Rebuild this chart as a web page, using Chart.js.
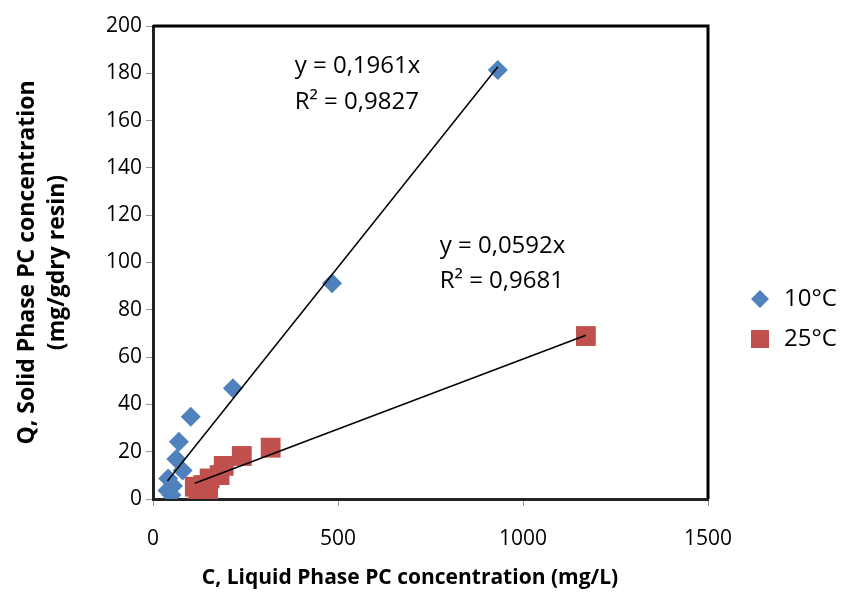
<!DOCTYPE html>
<html>
<head>
<meta charset="utf-8">
<script src="https://cdn.jsdelivr.net/npm/chart.js@4.4.1/dist/chart.umd.min.js"></script>
<style>
  html, body { margin: 0; padding: 0; background: #fff; }
  #wrap { width: 850px; height: 595px; }
</style>
</head>
<body>
<div id="wrap"><canvas id="chart" width="850" height="595"></canvas></div>
<script>
// Datos
var serieNames = ['10°C', '25°C'];
var c10 = [932, 484, 216, 102, 70, 63, 80, 41, 54, 39, 50];
var q10 = [181.4, 91.2, 46.8, 34.8, 24.2, 16.9, 12, 8.7, 5.5, 3.6, 1.7];
var c25 = [1170, 318, 240, 191, 180, 153, 136, 113, 149, 122];
var q25 = [68.9, 21.7, 18.2, 14, 10.1, 8.7, 5.9, 5.2, 3.8, 0.2];
var slopes = [0.1961, 0.0592];
var eqLabels = [['y = 0,1961x', 'R² = 0,9827'], ['y = 0,0592x', 'R² = 0,9681']];
var xTicks = [0, 500, 1000, 1500];
var xTitle = 'C, Liquid Phase PC concentration (mg/L)';

var blue = '#4F81BD';
var red = '#C0504D';
var font = "'Open Sans', 'Liberation Sans', sans-serif";

function puntos(xs, ys) {
    return xs.map(function(x, i) { return {x: x, y: ys[i]}; });
}

// Linea de tendencia (y = m x) entre min y max de la serie
function tendencia(xs, m) {
    var a = Math.min.apply(null, xs), b = Math.max.apply(null, xs);
    return [{x: a, y: m * a}, {x: b, y: m * b}];
}

//Bordes, ecuaciones, titulo X y leyenda
var extras = {
    id: 'extras',
    afterDraw: function(chart) {
        var ctx = chart.ctx, a = chart.chartArea;
        var sx = chart.scales.x, sy = chart.scales.y;
        ctx.save();
        ctx.strokeStyle = '#000';
        ctx.lineWidth = 3;
        ctx.beginPath();
        ctx.moveTo(a.left, a.top);
        ctx.lineTo(a.right, a.top);
        ctx.lineTo(a.right, a.bottom);
        ctx.stroke();

        ctx.fillStyle = '#000';
        ctx.font = '24px ' + font;
        ctx.textBaseline = 'middle';
        ctx.textAlign = 'left';
        ctx.fillText(eqLabels[0][0], sx.getPixelForValue(383), sy.getPixelForValue(183));
        ctx.fillText(eqLabels[0][1], sx.getPixelForValue(383), sy.getPixelForValue(168));
        ctx.fillText(eqLabels[1][0], sx.getPixelForValue(775), sy.getPixelForValue(107));
        ctx.fillText(eqLabels[1][1], sx.getPixelForValue(775), sy.getPixelForValue(92));

        // titulo del eje X
        ctx.textAlign = 'center';
        ctx.font = 'bold 21px ' + font;
        ctx.fillText(xTitle, 410, 578);

        // leyenda
        ctx.textAlign = 'left';
        var lx = 760, ly = [299, 339];
        ctx.fillStyle = blue;
        ctx.beginPath();
        ctx.moveTo(lx, ly[0] - 9);
        ctx.lineTo(lx + 9, ly[0]);
        ctx.lineTo(lx, ly[0] + 9);
        ctx.lineTo(lx - 9, ly[0]);
        ctx.closePath();
        ctx.fill();
        ctx.fillStyle = red;
        ctx.fillRect(lx - 9, ly[1] - 9, 18, 18);
        ctx.fillStyle = '#000';
        ctx.font = '24px ' + font;
        ctx.fillText(serieNames[0], 784, ly[0]);
        ctx.fillText(serieNames[1], 784, ly[1]);
        ctx.restore();
    }
};

var ctx = document.getElementById('chart').getContext('2d');
var grafico = new Chart(ctx, {
    type: 'scatter',
    data: {
        datasets: [{
            label: serieNames[0],
            data: puntos(c10, q10),
            pointStyle: 'rectRot',
            pointRadius: 10,
            pointHoverRadius: 10,
            backgroundColor: blue,
            borderColor: blue,
            borderWidth: 0,
            order: 2
        }, {
            label: serieNames[1],
            data: puntos(c25, q25),
            pointStyle: 'rect',
            pointRadius: 14,
            pointHoverRadius: 14,
            backgroundColor: red,
            borderColor: red,
            borderWidth: 0,
            order: 3
        }, {
            type: 'line',
            label: 'trend10',
            data: tendencia(c10, slopes[0]),
            borderColor: '#000',
            borderWidth: 1.5,
            pointRadius: 0,
            fill: false,
            order: 1
        }, {
            type: 'line',
            label: 'trend25',
            data: tendencia(c25, slopes[1]),
            borderColor: '#000',
            borderWidth: 1.5,
            pointRadius: 0,
            fill: false,
            order: 1
        }]
    },
    options: {
        responsive: false,
        animation: false,
        layout: { padding: { left: 0, top: 26, right: 142, bottom: 0 } },
        plugins: {
            legend: { display: false },
            tooltip: { enabled: false }
        },
        scales: {
            x: {
                type: 'linear',
                min: 0,
                max: 1500,
                afterBuildTicks: function(s) {
                    s.ticks = xTicks.map(function(v) { return {value: v}; });
                },
                afterFit: function(s) { s.height = 96; },
                grid: { drawOnChartArea: false, drawTicks: true, tickLength: 7, color: '#999' },
                border: { color: '#222', width: 3 },
                ticks: {
                    color: '#000',
                    font: { family: font, size: 21 },
                    padding: 20,
                    callback: function(v) { return String(v); }
                },
                title: { display: false }
            },
            y: {
                min: 0,
                max: 200,
                afterFit: function(s) { s.width = 153; },
                grid: { drawOnChartArea: false, drawTicks: true, tickLength: 7, color: '#999' },
                border: { color: '#222', width: 3 },
                ticks: { stepSize: 20, color: '#000', font: { family: font, size: 21 }, padding: 4 },
                title: {
                    display: true,
                    text: ['Q, Solid Phase PC concentration', '(mg/gdry resin)'],
                    color: '#000',
                    font: { family: font, size: 23, weight: 'bold', lineHeight: 1.3 },
                    padding: { top: 13, bottom: 0 }
                }
            }
        }
    },
    plugins: [extras]
});
</script>
</body>
</html>
